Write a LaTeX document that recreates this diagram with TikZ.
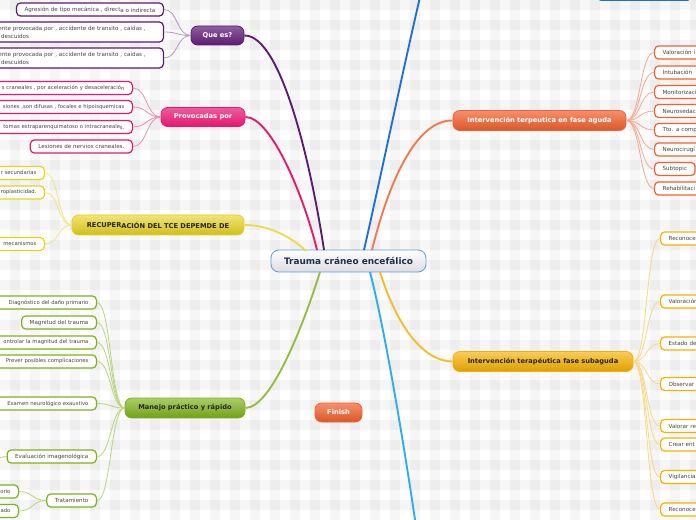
\documentclass[tikz,border=0pt]{standalone}
\usepackage{fontspec}
\setmainfont{DejaVu Sans}
\definecolor{cpur}{HTML}{5C1A72}
\definecolor{cpink}{HTML}{E5176F}
\definecolor{cyel}{HTML}{E8D21C}
\definecolor{cgrn}{HTML}{7DB31A}
\definecolor{corg}{HTML}{F2602E}
\definecolor{cyor}{HTML}{F7B000}
\definecolor{cblu}{HTML}{1E6FD9}
\definecolor{clbl}{HTML}{2AAEF0}
\definecolor{txt}{HTML}{444444}
\definecolor{navy}{HTML}{1E3050}
\tikzset{
  kid/.style={font=\fontsize{4.2}{6}\selectfont, text=txt, rounded corners=3pt, line width=0.9pt, fill=white, minimum height=9.75pt, inner ysep=1pt, inner xsep=6pt},
  lcut/.style={text width=150pt, align=right, anchor=east, font=\fontsize{3.95}{6}\selectfont},
  rcut/.style={text width=150pt, align=left, anchor=west},
  topic/.style={font=\fontsize{5}{5.5}\selectfont\bfseries, rounded corners=5pt, line width=0.6pt, inner xsep=2pt, inner ysep=1pt},
  mainline/.style={line width=1.4pt},
  kidline/.style={line width=0.6pt},
}
\begin{document}
\begin{tikzpicture}[x=0.75pt,y=-0.75pt]
\useasboundingbox (0,0) rectangle (696,520);
\clip (0,0) rectangle (696,520);
\fill[white] (0,0) rectangle (696,520);
\foreach \i in {0,...,34} \fill[black,opacity=0.035] (20*\i+10,0) rectangle ++(10,520);
\foreach \j in {0,...,25} \fill[black,opacity=0.035] (0,20*\j) rectangle ++(696,10);

% central
\node[topic, font=\fontsize{6.7}{7}\selectfont\bfseries, text=navy, draw=cblu!70, top color=white, bottom color=blue!10!gray!25, minimum width=116.25pt, minimum height=16.5pt, rounded corners=6pt] (C) at (348.5,261) {Trauma cráneo encefálico};

% main topics
\node[topic, text=white, draw=cpur, top color=cpur!70!white, bottom color=cpur, minimum width=39.75pt, minimum height=14.25pt] (Q) at (217.5,35.5) {Que es?};
\node[topic, text=white, draw=cpink, top color=cpink!70!white, bottom color=cpink, minimum width=63pt, minimum height=14.25pt] (P) at (203,117) {Provocadas por};
\node[topic, text=black!85, draw=cyel, top color=cyel!60!white, bottom color=cyel!90!black, minimum width=129pt, minimum height=15pt] (Y) at (158,225) {\raisebox{0.6pt}{RECUPER}ACIÓN DEL TCE DEPEMDE DE};
\node[topic, text=black!85, draw=cgrn, top color=cgrn!65!white, bottom color=cgrn!90!black, minimum width=90pt, minimum height=15pt] (G) at (185,408) {Manejo práctico y rápido};
\node[topic, text=white, draw=corg, top color=corg!70!white, bottom color=corg!90!black, minimum width=129.75pt, minimum height=15pt] (O) at (539.5,120.5) {Intervención terpeutica en fase aguda};
\node[topic, text=black!85, draw=cyor, top color=cyor!65!white, bottom color=cyor!90!black, minimum width=135pt, minimum height=15pt] (S) at (543,361.5) {Intervención terapéutica fase subaguda};
\node[topic, text=white, draw=corg, top color=corg!70!white, bottom color=corg!90!black, minimum width=35.25pt, minimum height=14.25pt] (F) at (338.5,412.5) {Finish};
\node[fill=cblu, rounded corners=2pt, minimum width=69pt, minimum height=12pt, anchor=south west, inner sep=0pt] (T) at (598,1.2) {};

% purple children
\node[kid, draw=cpur, anchor=east] (q1) at (164,9.5) {Agresión de tipo mecánica , direct\raisebox{-0.8pt}{a o indirecta}};
\node[kid, draw=cpur, text width=117.75pt, align=left, anchor=east, minimum height=15pt] (q2) at (164,32) {ente provocada por , accidente de transito , caidas ,\\\hspace*{2pt}descuidos};
\node[kid, draw=cpur, text width=117.75pt, align=left, anchor=east, minimum height=15pt] (q3) at (164,58) {ente provocada por , accidente de transito , caidas ,\\\hspace*{2pt}descuidos};

% pink children
\node[kid, draw=cpink, lcut] (p1) at (133,88) {s craneales , por aceleración y desaceleració\raisebox{-0.8pt}{n}};
\node[kid, draw=cpink, lcut] (p2) at (133,107) {siones ,son difusas , focales e hipoisquemicas};
\node[kid, draw=cpink, lcut] (p3) at (133,127) {tomas extraparenquimatoso o intracraneale\raisebox{-0.8pt}{s.}};
\node[kid, draw=cpink, anchor=east] (p4) at (133,146.5) {Lesiones de nervios craneales.};

% yellow children
\node[kid, draw=cyel, lcut] (y1) at (45,173) {r secundarias};
\node[kid, draw=cyel, lcut] (y2) at (45,192.5) {roplasticidad.};
\node[kid, draw=cyel, lcut] (y3) at (45,244) {mecanismos};

% green children
\node[kid, draw=cgrn, lcut] (g1) at (97,302.5) {Diagnóstico del daño primario};
\node[kid, draw=cgrn, anchor=east] (g2) at (97,322.5) {Magnitud del trauma};
\node[kid, draw=cgrn, lcut] (g3) at (97,342.5) {ontrolar la magnitud del trauma};
\node[kid, draw=cgrn, lcut] (g4) at (97,361.5) {Prever posibles complicaciones};
\node[kid, draw=cgrn, lcut] (g5) at (97,403.5) {Examen neurológico exaustivo};
\node[kid, draw=cgrn, anchor=east] (g6) at (97,456.5) {Evaluación imagenológica};
\node[kid, draw=cgrn, anchor=east] (g7) at (97,500.5) {Tratamiento};
\node[kid, draw=cgrn, lcut] (g8) at (19,491.5) {orio};
\node[kid, draw=cgrn, lcut] (g9) at (19,511) {ado};
\coordinate (g6off) at (-15,470);

% orange children
\node[kid, draw=corg, rcut] (o1) at (654,52.5) {Valoración i};
\node[kid, draw=corg, rcut] (o2) at (654,72.5) {Intubación};
\node[kid, draw=corg, rcut] (o3) at (654,92) {Monitorizaci};
\node[kid, draw=corg, rcut] (o4) at (654,111) {Neurosedaci};
\node[kid, draw=corg, rcut] (o5) at (654,130) {Tto. a comp};
\node[kid, draw=corg, rcut] (o6) at (654,149.5) {Neurocirugí};
\node[kid, draw=corg, anchor=west] (o7) at (654,169) {Subtopic};
\node[kid, draw=corg, rcut] (o8) at (654,188.5) {Rehabilitaci};

% yellow-orange children
\node[kid, draw=cyor, rcut] (s1) at (660,238.5) {Reconoce};
\node[kid, draw=cyor, rcut] (s2) at (660,301.5) {Valoración};
\node[kid, draw=cyor, rcut] (s3) at (660,343.5) {Estado de};
\node[kid, draw=cyor, rcut] (s4) at (660,384) {Observar};
\node[kid, draw=cyor, rcut] (s5) at (660,426) {Valorar re};
\node[kid, draw=cyor, rcut] (s6) at (660,444.5) {Crear ent};
\node[kid, draw=cyor, rcut] (s7) at (660,477) {Vigilancia};
\node[kid, draw=cyor, rcut] (s8) at (660,509.5) {Reconoce};

\coordinate (blueend) at (424,-20);
\coordinate (lblueend) at (418,540);

% main connectors
\draw[mainline, cpur] (Q.east) .. controls (282,35) and (312,170) .. (324,250);
\draw[mainline, cpink] (P.east) .. controls (272,117) and (305,200) .. (317,250);
\draw[mainline, cyel!80] (Y.east) .. controls (268,225) and (290,236) .. (306,251);
\draw[mainline, cgrn!85] (G.east) .. controls (272,408) and (305,320) .. (320,272);
\draw[mainline, corg!85] (372,250) .. controls (388,185) and (415,120) .. (O.west);
\draw[mainline, cblu] (364,250) .. controls (380,180) and (405,60) .. (blueend);
\draw[mainline, cyor!85] (380,272) .. controls (395,320) and (420,361) .. (S.west);
\draw[mainline, clbl] (370,272) .. controls (385,330) and (405,450) .. (lblueend);

% child connectors
\foreach \n in {q1,q2,q3} \draw[kidline, cpur!45] (\n.east) .. controls +(14,0) and +(-14,0) .. (Q.west);
\foreach \n in {p1,p2,p3,p4} \draw[kidline, cpink!50] (\n.east) .. controls +(14,0) and +(-14,0) .. (P.west);
\foreach \n in {y1,y2,y3} \draw[kidline, cyel!55] (\n.east) .. controls +(14,0) and +(-14,0) .. (Y.west);
\foreach \n in {g1,g2,g3,g4,g5,g6,g7} \draw[kidline, cgrn!55] (\n.east) .. controls +(14,0) and +(-14,0) .. (G.west);
\foreach \n in {g8,g9} \draw[kidline, cgrn!55] (\n.east) .. controls +(14,0) and +(-14,0) .. (g7.west);
\draw[kidline, cgrn!55] (g6.west) .. controls +(-10,0) and +(8,-6) .. (g6off);
\foreach \n in {o1,o2,o3,o4,o5,o6,o7,o8} \draw[kidline, corg!55] (O.east) .. controls +(14,0) and +(-14,0) .. (\n.west);
\foreach \n in {s1,s2,s3,s4,s5,s6,s7,s8} \draw[kidline, cyor!50] (S.east) .. controls +(14,0) and +(-14,0) .. (\n.west);
\end{tikzpicture}
\end{document}
